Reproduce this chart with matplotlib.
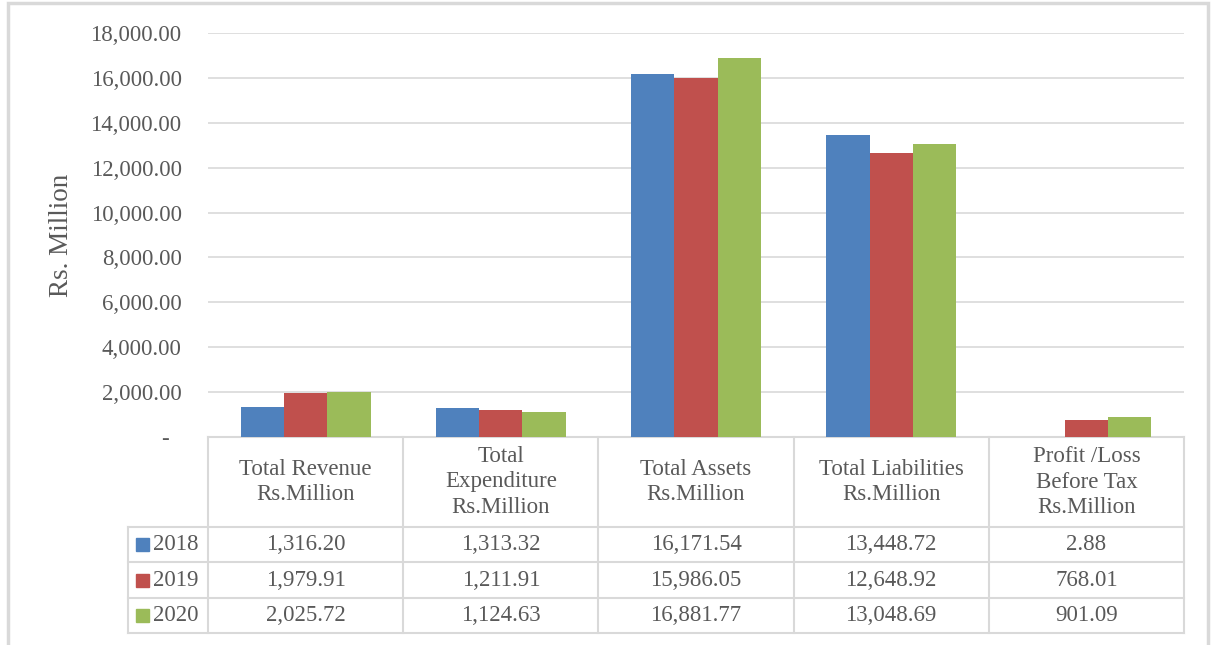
import matplotlib.pyplot as plt
import matplotlib.transforms as mtransforms
from matplotlib.patches import Rectangle
import numpy as np

plt.rcParams['font.family'] = ['Liberation Serif', 'DejaVu Serif']

# data
categories = ["Total Revenue\nRs.Million", "Total\nExpenditure\nRs.Million",
              "Total Assets\nRs.Million", "Total Liabilities\nRs.Million",
              "Profit /Loss\nBefore Tax\nRs.Million"]
years = ["2018", "2019", "2020"]
v2018 = [1316.20, 1313.32, 16171.54, 13448.72, 2.88]
v2019 = [1979.91, 1211.91, 15986.05, 12648.92, 768.01]
v2020 = [2025.72, 1124.63, 16881.77, 13048.69, 901.09]
series = [v2018, v2019, v2020]
colors = ["#4F81BD", "#C0504D", "#9BBB59"]
yticks = [0, 2000, 4000, 6000, 8000, 10000, 12000, 14000, 16000, 18000]

W, H = 1214, 645
fig = plt.figure(figsize=(W / 100, H / 100), dpi=100)
txt_col = "#595959"
line_col = "#D9D9D9"
fs = 16.5

def fy(py):
    return 1 - py / H

def fx(px):
    return px / W

# outer chart border
fig.patches.append(Rectangle((fx(8), -0.05), fx(1208) - fx(8), fy(3) + 0.05,
                             transform=fig.transFigure, fill=False,
                             edgecolor="#D9D9D9", lw=2.5))

ax_l, ax_r, ax_t, ax_b = 208, 1184, 33, 437
ax = fig.add_axes([fx(ax_l), fy(ax_b), fx(ax_r) - fx(ax_l), fy(ax_t) - fy(ax_b)])

x = np.arange(len(categories))
bw = 0.222
for i, (vals, c) in enumerate(zip(series, colors)):
    ax.bar(x + (i - 1) * bw, vals, width=bw, color=c, zorder=3)

ax.set_xlim(-0.5, len(categories) - 0.5)
ax.set_ylim(0, 18000)
ax.set_yticks(yticks)
ax.set_yticklabels(["-  "] + [f"{v:,.2f}" for v in yticks[1:]])
ax.tick_params(axis='y', length=0, pad=19, labelsize=fs, labelcolor=txt_col)
ax.set_xticks([])
ax.grid(axis='y', color=line_col, lw=1.2, zorder=0)
for s in ax.spines.values():
    s.set_visible(False)
ax.set_ylabel("Rs. Million", fontsize=19.5, color=txt_col, labelpad=12)

# data table below the plot
bt = mtransforms.blended_transform_factory(ax.transData, fig.transFigure)
row_y = [437, 527, 562, 598, 633]
leg_l = 128
edges = np.arange(len(categories) + 1) - 0.5

ax.plot([edges[0], edges[-1]], [fy(row_y[0])] * 2, transform=bt,
        color=line_col, lw=1.5, clip_on=False)
for py in row_y[1:]:
    fig.add_artist(plt.Line2D([fx(leg_l), fx(ax_r)], [fy(py), fy(py)],
                              color=line_col, lw=1.5))
for e in edges:
    ax.plot([e, e], [fy(row_y[0]), fy(row_y[-1])], transform=bt,
            color=line_col, lw=1.5, clip_on=False)
fig.add_artist(plt.Line2D([fx(leg_l), fx(leg_l)], [fy(row_y[1]), fy(row_y[-1])],
                          color=line_col, lw=1.5))

hdr_mid = fy((row_y[0] + row_y[1]) / 2)
for xi, cat in zip(x, categories):
    ax.text(xi, hdr_mid, cat, transform=bt, ha='center', va='center',
            fontsize=fs, color=txt_col, linespacing=1.3)

for r, (yr, vals, c) in enumerate(zip(years, series, colors)):
    ymid = fy((row_y[r + 1] + row_y[r + 2]) / 2)
    fig.patches.append(Rectangle((fx(136), ymid - 6.5 / H), 13 / W, 13 / H,
                                 transform=fig.transFigure, color=c))
    fig.text(fx(153), ymid, yr, ha='left', va='center', fontsize=fs, color=txt_col)
    for xi, v in zip(x, vals):
        ax.text(xi, ymid, f"{v:,.2f}", transform=bt, ha='center', va='center',
                fontsize=fs, color=txt_col)

plt.savefig("out.png", dpi=100)
